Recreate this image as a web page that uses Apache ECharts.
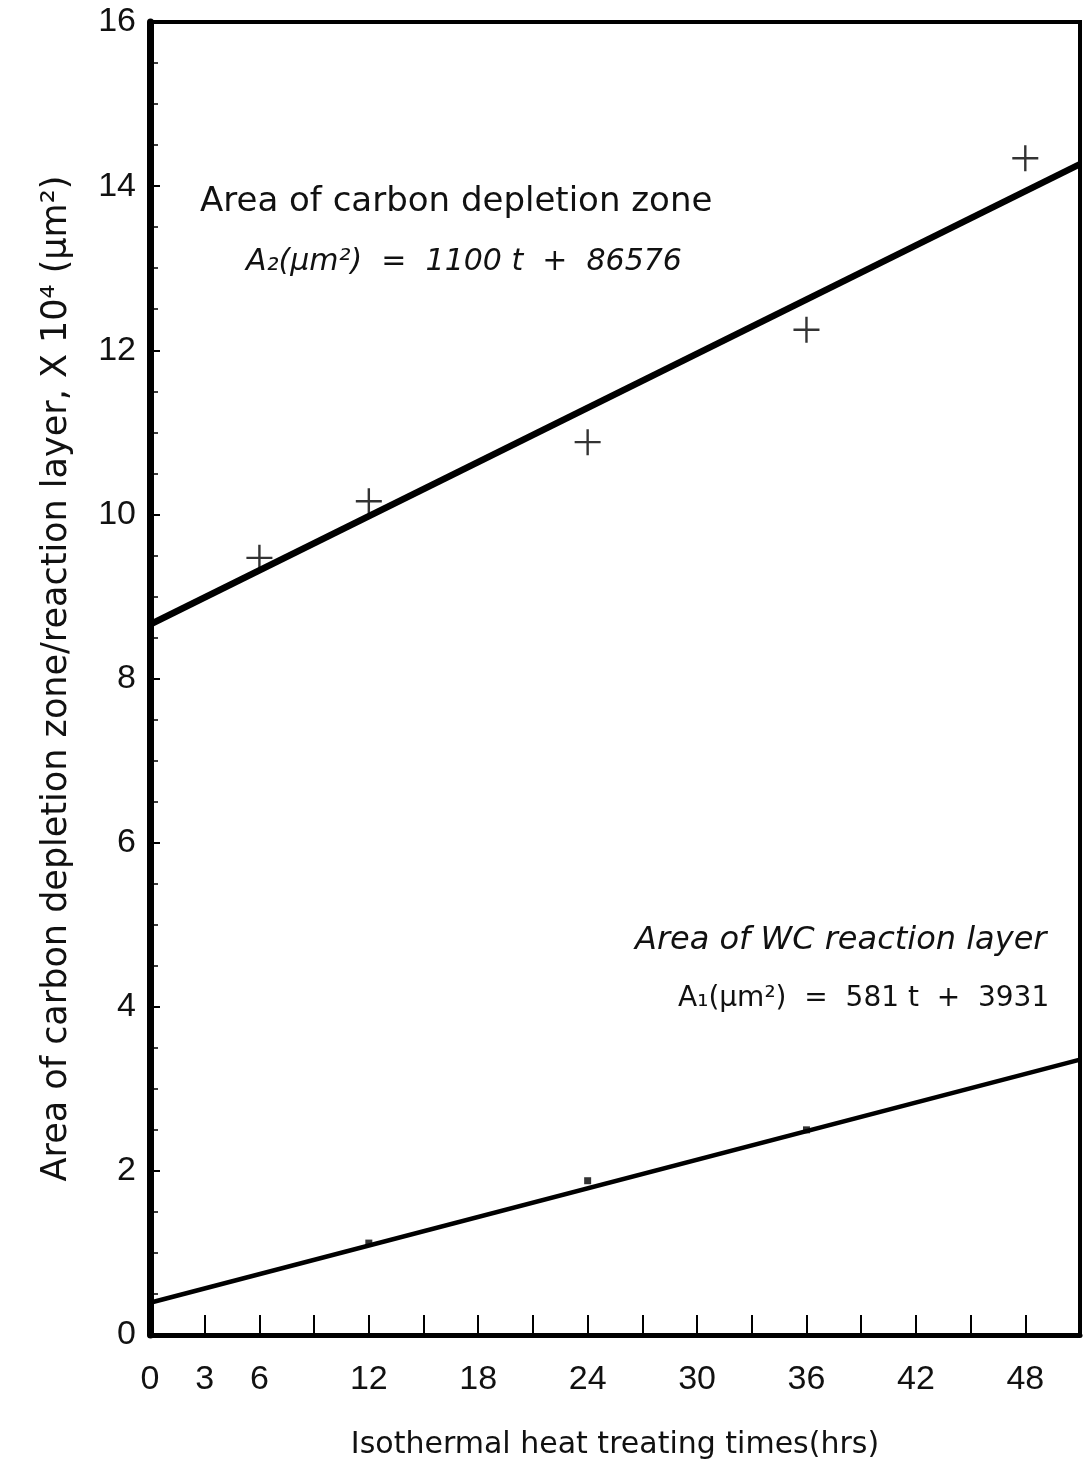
<!DOCTYPE html>
<html>
<head>
<meta charset="utf-8">
<script src="https://cdn.jsdelivr.net/npm/echarts@6/dist/echarts.min.js"></script>
<style>
  html, body { margin: 0; padding: 0; background: #fff; }
  #main { width: 1092px; height: 1470px; }
</style>
</head>
<body>
<div id="main"></div>
<script>
// measured points, area in 10^4 um^2
const depletionTimes = [6, 12, 24, 36, 48]
const depletionArea = [9.47, 10.16, 10.88, 12.25, 14.34]
const reactionTimes = [12, 24, 36]
const reactionArea = [1.12, 1.88, 2.5]

// fitted lines from the printed equations (um^2), converted to 10^4 um^2
const fitSlope = [1100, 581]
const fitIntercept = [86576, 3931]
const fitRange = [0, 51]

const xTicks = [0, 3, 6, 12, 18, 24, 30, 36, 42, 48]

function fitLine(i) {
  return fitRange.map(t => [t, (fitIntercept[i] + fitSlope[i] * t) / 10000])
}

const font = '"DejaVu Sans", sans-serif'
const numFont = '"Liberation Sans", Arial, sans-serif'
const plus = 'path://M-1.2,-13h2.4v26h-2.4z M-13,-1.2h26v2.4h-26z'

const myChart = echarts.init(document.getElementById('main'))
myChart.setOption({
  animation: false,
  grid: {
    left: 150, right: 12, top: 22, bottom: 135,
    show: true, borderColor: '#000', borderWidth: 4
  },
  xAxis: {
    type: 'value',
    min: 0, max: 51, interval: 3,
    name: 'Isothermal heat treating times(hrs)',
    nameLocation: 'middle',
    nameGap: 95,
    nameTextStyle: { fontFamily: font, fontSize: 30, color: '#111' },
    axisLine: { lineStyle: { color: '#000', width: 5 } },
    axisTick: { inside: true, length: 20, lineStyle: { color: '#000', width: 2 } },
    axisLabel: {
      margin: 28, fontSize: 34, fontFamily: numFont, color: '#111',
      showMaxLabel: false,
      formatter: v => xTicks.indexOf(v) >= 0 ? String(v) : ''
    },
    splitLine: { show: false }
  },
  yAxis: {
    type: 'value',
    min: 0, max: 16, interval: 2,
    name: 'Area of carbon depletion zone/reaction layer, X 10\u2074 (\u03bcm\u00b2)',
    nameLocation: 'middle',
    nameGap: 76,
    nameTextStyle: { fontFamily: font, fontSize: 35, color: '#111' },
    axisLine: { lineStyle: { color: '#000', width: 7 } },
    axisTick: { inside: true, length: 10, lineStyle: { color: '#000', width: 2 } },
    minorTick: { show: true, splitNumber: 4, length: 8, lineStyle: { color: '#000', width: 1.5 } },
    axisLabel: { margin: 14, fontSize: 34, fontFamily: numFont, color: '#111' },
    splitLine: { show: false }
  },
  series: [
    {
      type: 'line',
      data: fitLine(0),
      showSymbol: false,
      lineStyle: { color: '#000', width: 6.5 }
    },
    {
      type: 'line',
      data: fitLine(1),
      showSymbol: false,
      lineStyle: { color: '#000', width: 4.5 }
    },
    {
      type: 'scatter',
      data: depletionTimes.map((t, i) => [t, depletionArea[i]]),
      symbol: plus,
      symbolSize: 26,
      itemStyle: { color: '#000' }
    },
    {
      type: 'scatter',
      data: reactionTimes.map((t, i) => [t, reactionArea[i]]),
      symbol: 'rect',
      symbolSize: 7,
      itemStyle: { color: '#000' }
    }
  ],
  graphic: [
    {
      type: 'text', left: 200, top: 185,
      style: { text: 'Area of carbon depletion zone', font: '34px ' + font, fill: '#111' }
    },
    {
      type: 'text', left: 246, top: 247,
      style: { text: 'A\u2082(\u03bcm\u00b2)  =  1100 t  +  86576', font: 'italic 30px ' + font, fill: '#111' }
    },
    {
      type: 'text', left: 635, top: 925,
      style: { text: 'Area of WC reaction layer', font: 'italic 32px ' + font, fill: '#111' }
    },
    {
      type: 'text', left: 678, top: 985,
      style: { text: 'A\u2081(\u03bcm\u00b2)  =  581 t  +  3931', font: '28px ' + font, fill: '#111' }
    }
  ]
})
</script>
</body>
</html>
